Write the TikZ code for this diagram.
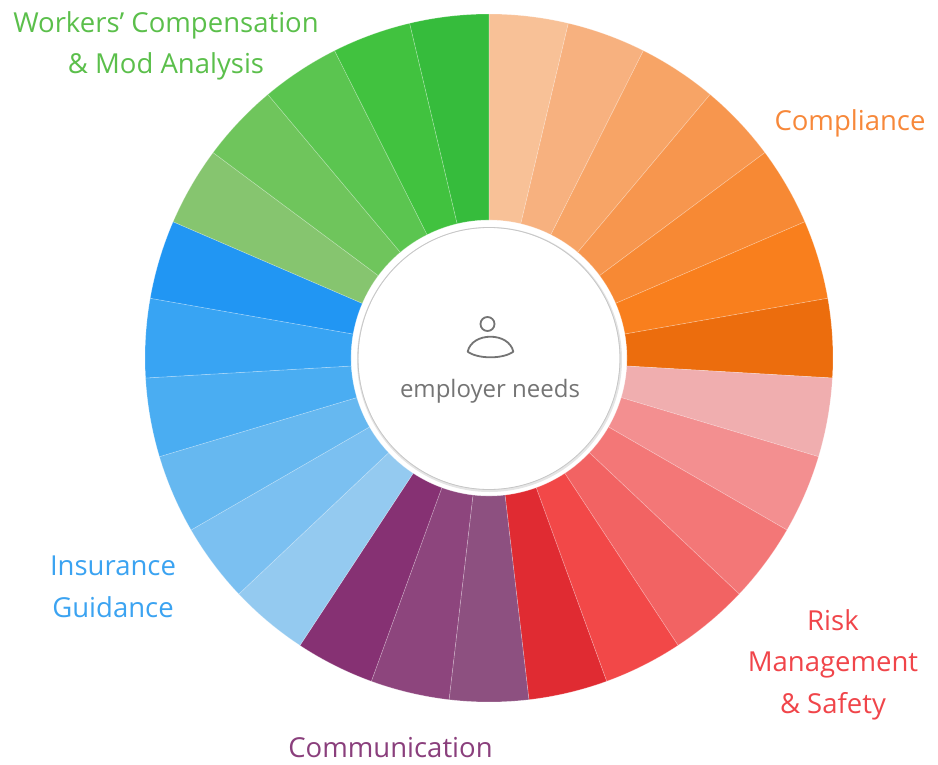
\documentclass[tikz,border=0pt]{standalone}
\usepackage{fontspec}
\setmainfont{Open Sans}
\usepackage{tikz}
\usetikzlibrary{positioning}
\definecolor{wcgreen}{HTML}{5BBF4B}
\definecolor{compor}{HTML}{F7883A}
\definecolor{riskred}{HTML}{F0454A}
\definecolor{commpur}{HTML}{8A3F7C}
\definecolor{insblue}{HTML}{3BA3F1}
\definecolor{needsgray}{HTML}{747474}

\begin{document}
\begin{tikzpicture}[x=1pt,y=1pt,
    lbl/.style={align=center,inner sep=0pt,font=\fontsize{27.5}{41.5}\selectfont},
    seg/.style={draw=white,draw opacity=0.3,line width=0.6pt}]
    \useasboundingbox (-489,-406) rectangle (449,358);
    \foreach \hex [count=\i from 0] in {F8C197,F7B17F,F7A466,F7964E,F78934,F97F1D,EC6D0D,
        F0AEAF,F38F90,F37777,F26363,F24848,E02B32,
        8D5080,8D457D,863173,
        94CAF0,7BC0F1,66B8F0,4AADF2,38A4F3,2196F3,
        86C56F,6FC55C,5BC550,41C23F,36BC3C}{
        \definecolor{segcol}{HTML}{\hex}
        \pgfmathsetmacro\sa{90-\i*360/27}
        \pgfmathsetmacro\ea{90-(\i+1)*360/27}
        \filldraw[seg,fill=segcol] (\sa:138) -- (\sa:344) arc[start angle=\sa,end angle=\ea,radius=344]
            -- (\ea:138) arc[start angle=\ea,end angle=\sa,radius=138] -- cycle;
    }
    \draw[black!10,line width=3pt] (0.5,-1.5) circle[radius=131];
    \fill[white] (0,-0.5) circle[radius=130.5];
    \draw[black!22,line width=0.8pt] (0,-0.5) circle[radius=131];

    \draw[needsgray,line width=1.8pt] (-1.5,34) circle[radius=7];
    \draw[needsgray,line width=1.8pt,line join=round] (-21.3,6.3) .. controls (-17,26.3) and (20,26.3) .. (24.3,6.3)
        .. controls (14,-1.2) and (-11,-1.2) .. cycle;
    \node[font=\fontsize{24}{28}\selectfont,text=needsgray,anchor=base,inner sep=0pt] (needs) at (1,-39) {employer needs};

    \node[lbl,text=wcgreen] (wc) at (-323,312) {Workers’ Compensation\\\& Mod Analysis};
    \node[lbl,text=compor] (compliance) at (361,235) {Compliance};
    \node[lbl,text=riskred] (risk) at (344,-306.5) {Risk\\Management\\\& Safety};
    \node[lbl,text=insblue] (ins) at (-376,-229) {Insurance\\Guidance};
    \node[lbl,text=commpur] (comm) at (-98.5,-389.5) {Communication};
\end{tikzpicture}
\end{document}
